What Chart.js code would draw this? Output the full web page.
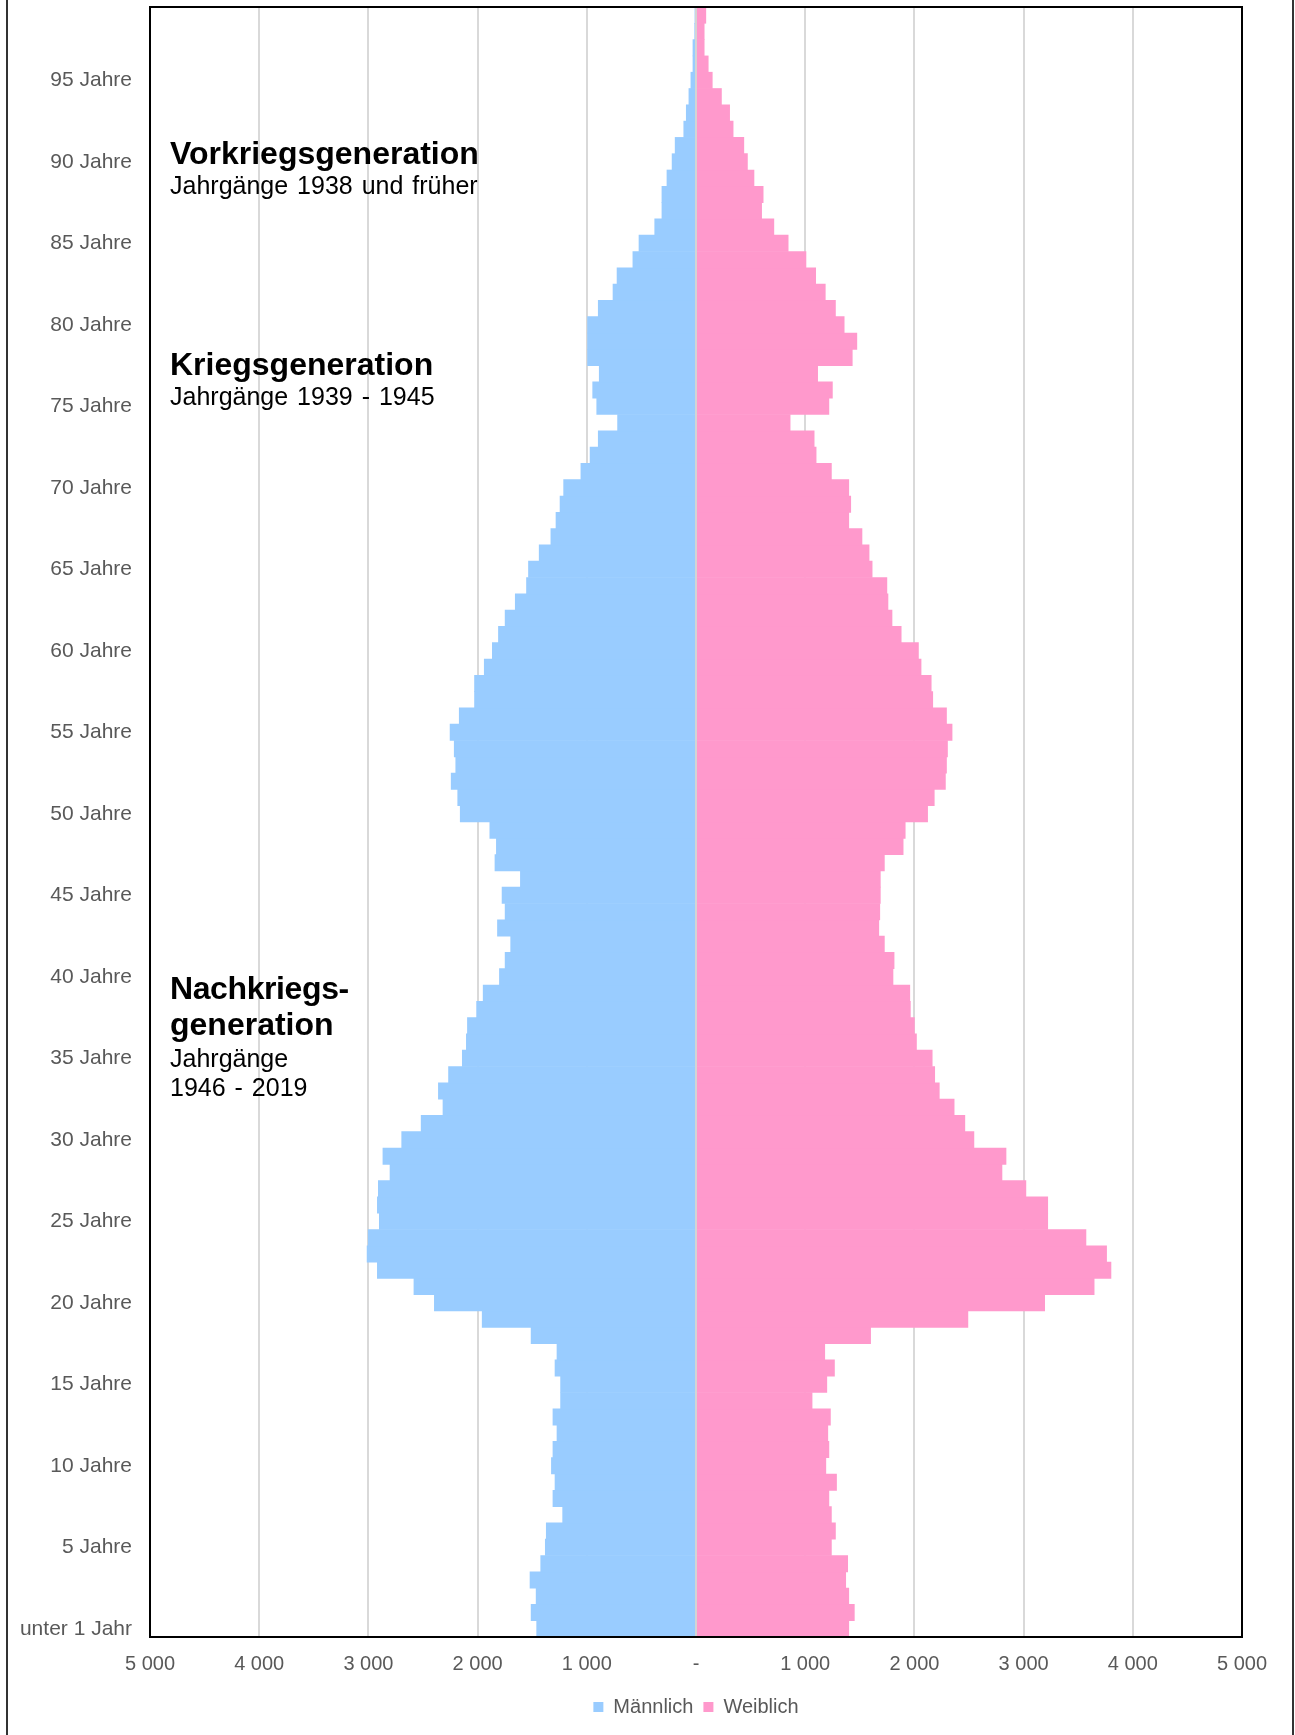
<!DOCTYPE html>
<html lang="de">
<head>
<meta charset="utf-8">
<title>Bevölkerungspyramide</title>
<script src="https://cdn.jsdelivr.net/npm/chart.js@4.4.1/dist/chart.umd.min.js"></script>
<style>
  html, body { margin: 0; padding: 0; background: #fff; }
  .wrap { position: relative; width: 1295px; height: 1735px; overflow: hidden; }
  .frame { position: absolute; left: 6px; top: 0; width: 1284px; height: 1735px;
           border-left: 2px solid #333; border-right: 2px solid #333; }
  canvas { position: absolute; left: 0; top: 0; }
  .note { position: absolute; left: 170px; color: #000; font-family: 'Liberation Sans', Arial, sans-serif;
          line-height: 1; white-space: nowrap; }
  .note.big { font-size: 32px; font-weight: bold; }
  .note.small { font-size: 25px; word-spacing: 2px; }
</style>
</head>
<body>
<div class="wrap">
  <div class="frame"></div>
  <canvas id="chart" width="1295" height="1735"></canvas>
  <div class="note big" style="top:137px">Vorkriegsgeneration</div>
  <div class="note small" style="top:173px">Jahrgänge 1938 und früher</div>
  <div class="note big" style="top:348px">Kriegsgeneration</div>
  <div class="note small" style="top:384px">Jahrgänge 1939 - 1945</div>
  <div class="note big" style="top:972px;letter-spacing:-0.4px">Nachkriegs-</div>
  <div class="note big" style="top:1008px">generation</div>
  <div class="note small" style="top:1046px">Jahrgänge</div>
  <div class="note small" style="top:1075px">1946 - 2019</div>
</div>
<script>
// Altersjahre 0..99 (Kategorien)
const ages = Array.from({ length: 100 }, (_, i) => i);
// nur jede 5. Altersstufe wird beschriftet
const shownAgeLabels = ['unter 1 Jahr', '5 Jahre', '10 Jahre', '15 Jahre', '20 Jahre', '25 Jahre',
  '30 Jahre', '35 Jahre', '40 Jahre', '45 Jahre', '50 Jahre', '55 Jahre', '60 Jahre', '65 Jahre',
  '70 Jahre', '75 Jahre', '80 Jahre', '85 Jahre', '90 Jahre', '95 Jahre'];

// Personen je Altersjahr, Index = Alter
const maennlich = [
  1459, 1510, 1464, 1520, 1422, 1380, 1371, 1221, 1310, 1291,
  1324, 1310, 1273, 1310, 1240, 1240, 1291, 1273, 1510, 1958,
  2396, 2583, 2918, 3012, 3002, 2900, 2918, 2909, 2802, 2867,
  2695, 2517, 2317, 2359, 2266, 2140, 2103, 2093, 2009, 1949,
  1800, 1748, 1697, 1818, 1748, 1776, 1608, 1841, 1828, 1888,
  2159, 2182, 2242, 2200, 2214, 2252, 2168, 2028, 2028, 1939,
  1865, 1809, 1748, 1655, 1552, 1534, 1436, 1329, 1282, 1245,
  1212, 1054, 970, 895, 718, 909, 946, 886, 993, 993,
  993, 895, 760, 723, 578, 522, 378, 312, 312, 266,
  219, 191, 112, 89, 65, 47, 28, 28, 12, 10
];
const weiblich = [
  1399, 1450, 1399, 1371, 1389, 1240, 1277, 1240, 1217, 1287,
  1189, 1217, 1207, 1231, 1063, 1198, 1268, 1179, 1599, 2490,
  3193, 3646, 3800, 3760, 3571, 3221, 3221, 3021, 2802, 2839,
  2545, 2462, 2364, 2228, 2186, 2163, 2019, 2000, 1963, 1958,
  1804, 1814, 1725, 1674, 1683, 1688, 1688, 1725, 1897, 1916,
  2121, 2182, 2284, 2294, 2303, 2345, 2294, 2168, 2154, 2061,
  2037, 1879, 1795, 1758, 1748, 1613, 1585, 1520, 1399, 1417,
  1399, 1240, 1100, 1082, 862, 1217, 1249, 1114, 1431, 1473,
  1357, 1277, 1184, 1096, 1007, 844, 713, 601, 615, 531,
  471, 438, 340, 308, 233, 149, 112, 75, 75, 90
];

Chart.defaults.font.family = "'Liberation Sans', Arial, sans-serif";
Chart.defaults.font.size = 20;
Chart.defaults.color = '#595959';

function fmt(v) {
  if (v === 0) return '-';
  return String(Math.abs(v)).replace(/\B(?=(\d{3})+(?!\d))/g, ' ');
}

// Nulllinie und Rahmen über den Balken
const overlay = {
  id: 'overlay',
  afterDatasetsDraw(chart) {
    const { ctx, chartArea: a, scales } = chart;
    const x0 = scales.x.getPixelForValue(0);
    ctx.save();
    ctx.strokeStyle = '#d4d4d4';
    ctx.lineWidth = 2;
    ctx.beginPath();
    ctx.moveTo(x0, a.top);
    ctx.lineTo(x0, a.bottom);
    ctx.stroke();
    ctx.strokeStyle = '#000';
    ctx.lineWidth = 2;
    ctx.strokeRect(a.left, a.top, a.right - a.left, a.bottom - a.top);
    ctx.restore();
  }
};

new Chart(document.getElementById('chart'), {
  type: 'bar',
  data: {
    labels: ages,
    datasets: [{
      label: 'Männlich',
      data: maennlich.map(v => -v),
      backgroundColor: '#99CCFF',
      borderWidth: 0,
      barPercentage: 1,
      categoryPercentage: 1
    }, {
      label: 'Weiblich',
      data: weiblich,
      backgroundColor: '#FF99CC',
      borderWidth: 0,
      barPercentage: 1,
      categoryPercentage: 1
    }]
  },
  options: {
    indexAxis: 'y',
    responsive: false,
    animation: false,
    layout: { padding: { top: 7, right: 53, left: 0, bottom: 8 } },
    scales: {
      x: {
        stacked: true,
        min: -5000,
        max: 5000,
        ticks: { stepSize: 1000, padding: 15, callback: v => fmt(v), maxRotation: 0 },
        grid: { color: '#d9d9d9', lineWidth: 2, drawTicks: false },
        border: { display: false },
        afterFit(scale) { scale.height = 50; }
      },
      y: {
        stacked: true,
        reverse: true,
        ticks: {
          autoSkip: false,
          padding: 18,
          font: { size: 21 },
          callback: (value, index) => index % 5 === 0 ? shownAgeLabels[index / 5] : ''
        },
        grid: { display: false, drawTicks: false },
        border: { display: false },
        afterFit(scale) {
          scale.width = 150;
          scale.paddingTop = 0;
          scale.paddingBottom = 0;
        }
      }
    },
    plugins: {
      legend: {
        position: 'bottom',
        fullSize: false,
        labels: { boxWidth: 10, boxHeight: 10, padding: 10, color: '#595959' }
      },
      tooltip: { enabled: false }
    }
  },
  plugins: [overlay]
});
</script>
</body>
</html>
